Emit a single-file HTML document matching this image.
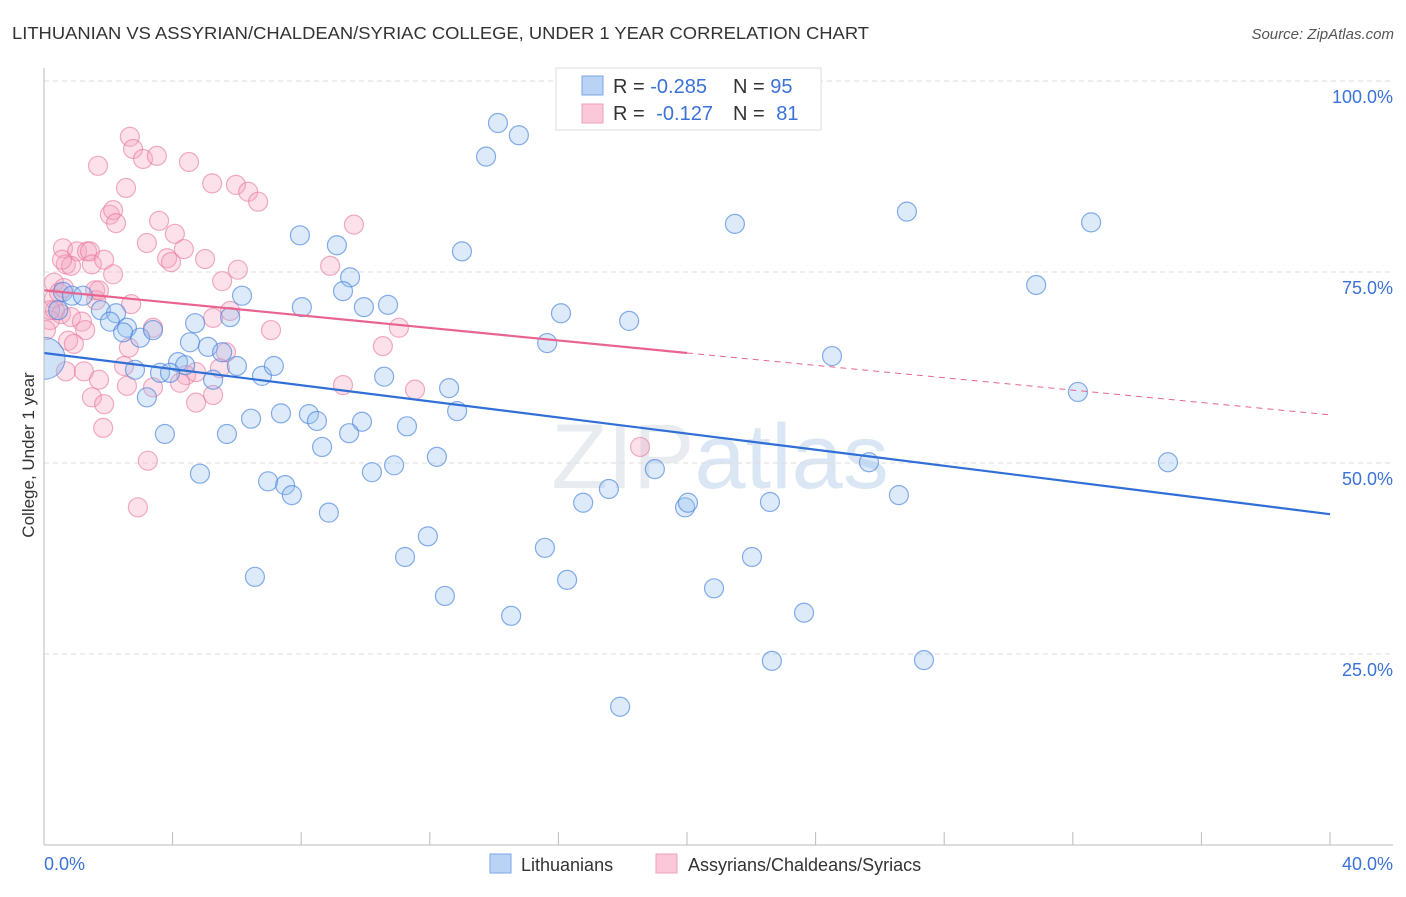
<!DOCTYPE html>
<html><head><meta charset="utf-8"><style>
body{margin:0;background:#fff;font-family:"Liberation Sans",sans-serif;}
svg text{font-family:"Liberation Sans",sans-serif;}
</style></head><body>
<svg id="chart" width="1406" height="892">
<defs><clipPath id="plot"><rect x="44" y="60" width="1360" height="785"/></clipPath></defs>
<text x="12" y="39" font-size="17.5" fill="#333" textLength="857" lengthAdjust="spacingAndGlyphs">LITHUANIAN VS ASSYRIAN/CHALDEAN/SYRIAC COLLEGE, UNDER 1 YEAR CORRELATION CHART</text>
<text x="1394" y="39" font-size="15" fill="#555" font-style="italic" text-anchor="end">Source: ZipAtlas.com</text>
<text transform="translate(34,455) rotate(-90)" font-size="17" fill="#333" text-anchor="middle">College, Under 1 year</text>
<text x="720" y="488" font-size="92" fill="#e8ebf0" text-anchor="middle" font-family="Liberation Serif">ZIP<tspan fill="#dbe6f5" font-family="Liberation Sans">atlas</tspan></text>
<g id="grid"></g><g id="pts" clip-path="url(#plot)"></g><g id="lines"></g>
<line x1="44" y1="68" x2="44" y2="845" stroke="#bbb"/>
<line x1="44" y1="845" x2="1393" y2="845" stroke="#bbb"/>
<text x="44" y="870" font-size="18" fill="#3a72d8">0.0%</text>
<text x="1393" y="870" font-size="18" fill="#3a72d8" text-anchor="end">40.0%</text>
<g>
<rect x="556" y="68" width="265" height="62" fill="#fff" stroke="#ddd"/>
<rect x="582" y="76" width="21" height="19" fill="#b9d3f5" stroke="#7aa6e6"/>
<rect x="582" y="104" width="21" height="19" fill="#fac8d8" stroke="#eea0ba"/>
<text x="613" y="93" font-size="20" fill="#333">R = <tspan fill="#3a72d8">-0.285</tspan><tspan x="733">N = </tspan><tspan fill="#3a72d8">95</tspan></text>
<text x="613" y="120" font-size="20" fill="#333">R = <tspan fill="#3a72d8" dx="6">-0.127</tspan><tspan x="733">N = </tspan><tspan fill="#3a72d8" dx="6">81</tspan></text>
</g>
<g>
<rect x="490" y="854" width="21" height="19" fill="#b9d3f5" stroke="#7aa6e6"/>
<text x="521" y="871" font-size="18" fill="#333">Lithuanians</text>
<rect x="656" y="854" width="21" height="19" fill="#fac8d8" stroke="#eea0ba"/>
<text x="688" y="871" font-size="18" fill="#333">Assyrians/Chaldeans/Syriacs</text>
</g>
</svg>
<script>
const yTicks=[100,75,50,25];
const yTickLabels=["100.0%","75.0%","50.0%","25.0%"];
const xTicks=[0,4,8,12,16,20,24,28,32,36,40];
const bluePx=[[498,123],[519,135],[486,157],[735,224],[907,212],[1091,222],[300,235],[337,245],[462,251],[350,277],[1036,285],[242,296],[302,307],[343,291],[364,307],[388,305],[561,313],[629,321],[547,343],[832,356],[63,292],[72,296],[83,296],[58,310],[101,310],[116,313],[110,322],[127,328],[123,332],[140,338],[153,330],[195,323],[230,317],[190,342],[208,347],[222,352],[178,362],[185,365],[237,366],[160,373],[170,373],[135,370],[213,380],[262,376],[274,366],[147,397],[384,377],[449,388],[457,411],[1078,392],[251,419],[281,413],[309,414],[317,421],[362,422],[349,433],[407,426],[165,434],[227,434],[322,447],[437,457],[394,465],[372,472],[200,474],[268,481],[285,485],[292,495],[329,513],[655,469],[869,462],[1168,462],[609,489],[583,503],[685,507],[688,503],[770,502],[899,495],[545,548],[428,536],[405,557],[752,557],[567,580],[255,577],[714,588],[445,596],[511,616],[804,613],[772,661],[924,660],[620,707]];
const pinkPx=[[130,137],[133,149],[143,159],[157,156],[98,166],[189,162],[212,183],[236,185],[126,188],[248,192],[258,202],[110,215],[113,210],[116,223],[354,225],[159,221],[175,234],[147,243],[63,248],[77,251],[87,251],[90,251],[184,249],[205,259],[66,264],[71,266],[92,264],[104,260],[167,258],[171,262],[113,274],[238,270],[330,266],[54,283],[222,281],[95,290],[54,299],[59,293],[96,300],[131,304],[61,314],[50,320],[71,317],[82,322],[85,330],[46,330],[68,341],[74,344],[213,318],[230,311],[271,330],[399,328],[153,328],[55,310],[64,288],[383,346],[129,348],[226,352],[124,366],[66,371],[84,371],[99,380],[343,385],[186,375],[180,383],[415,390],[153,387],[127,386],[213,395],[92,397],[104,404],[196,403],[103,428],[640,447],[148,461],[138,507],[220,368],[196,372],[50,310],[62,260],[99,290]];
const blueX=bluePx.map(p=>+((p[0]-44)/32.15).toFixed(2));
const blueY=bluePx.map(p=>+((845-p[1])/7.64).toFixed(1));
const pinkX=pinkPx.map(p=>+((p[0]-44)/32.15).toFixed(2));
const pinkY=pinkPx.map(p=>+((845-p[1])/7.64).toFixed(1));
const blueTrend=[64.4,43.3];
const pinkTrend=[72.6,64.4,56.3];
const sx=v=>44+v*32.15, sy=v=>845-v*7.64;
const NS="http://www.w3.org/2000/svg";
function mk(t,a,p){const e=document.createElementNS(NS,t);for(const k in a)e.setAttribute(k,a[k]);p.appendChild(e);return e;}
const grid=document.getElementById('grid');
yTicks.forEach((v,i)=>{
 const l=mk('line',{x1:44,x2:1393,y1:sy(v),y2:sy(v),stroke:'#ddd','stroke-dasharray':'5,4'},grid);
 
 
 const t=mk('text',{x:1393,y:sy(v)+22,'font-size':18,fill:'#3a72d8','text-anchor':'end'},grid);
 t.textContent=yTickLabels[i];
 
 
});
xTicks.forEach(v=>{
 const l=mk('line',{x1:sx(v),x2:sx(v),y1:832,y2:845,stroke:'#bbb'},grid);
 
 
});
const pts=document.getElementById('pts');
pinkX.forEach((x,i)=>{
 const c=mk('circle',{cx:sx(x),cy:sy(pinkY[i]),r:9.5,fill:'rgba(246,165,192,0.33)',stroke:'rgba(232,120,155,0.6)','stroke-width':1.2},pts);
 
 
});
blueX.forEach((x,i)=>{
 const c=mk('circle',{cx:sx(x),cy:sy(blueY[i]),r:9.5,fill:'rgba(150,190,240,0.33)',stroke:'rgba(70,130,220,0.65)','stroke-width':1.2},pts);
 
 
});
const big=mk('circle',{cx:sx(0),cy:sy(63.7),r:21,fill:'rgba(150,190,240,0.45)',stroke:'rgba(70,130,220,0.7)'},pts);


const lines=document.getElementById('lines');
const bl=mk('line',{x1:sx(0),y1:sy(blueTrend[0]),x2:sx(40),y2:sy(blueTrend[1]),stroke:'#2f6fd6','stroke-width':2.2},lines);


const pl=mk('line',{x1:sx(0),y1:sy(pinkTrend[0]),x2:sx(20),y2:sy(pinkTrend[1]),stroke:'#e8648e','stroke-width':2.2},lines);


const pd=mk('line',{x1:sx(20),y1:sy(pinkTrend[1]),x2:sx(40),y2:sy(pinkTrend[2]),stroke:'#e8648e','stroke-width':1,'stroke-dasharray':'6,5'},lines);


</script>
</body></html>
